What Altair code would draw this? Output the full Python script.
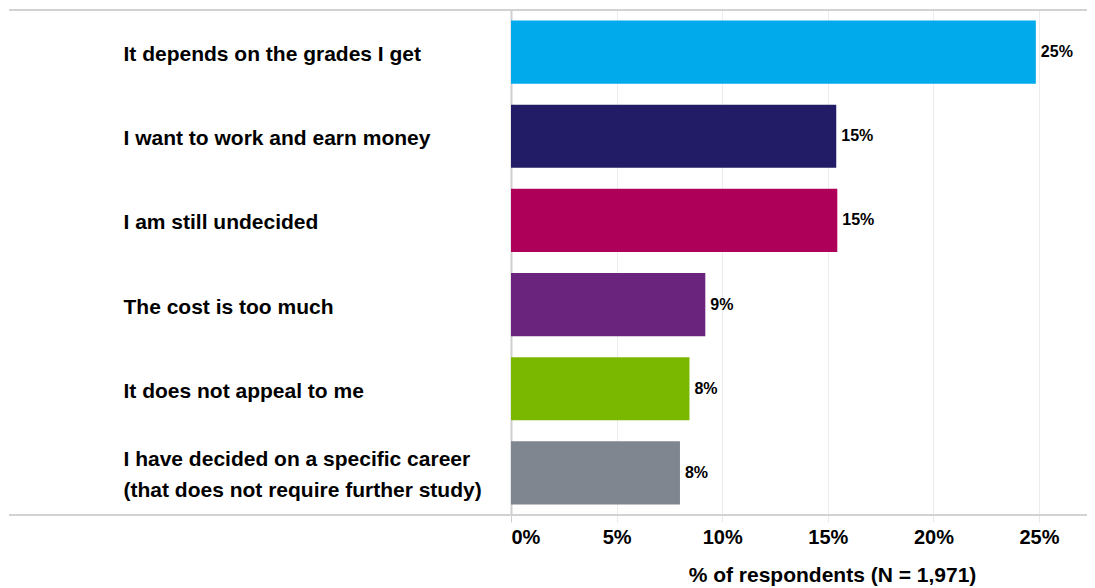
import altair as alt
import pandas as pd

categories = [
    "It depends on the grades I get",
    "I want to work and earn money",
    "I am still undecided",
    "The cost is too much",
    "It does not appeal to me",
    "I have decided on a specific career|(that does not require further study)",
]
values = [24.85, 15.4, 15.45, 9.2, 8.45, 8.0]
colors = ["#00AAEB", "#221C66", "#AE0058", "#6B247D", "#7AB800", "#7F8690"]
tick_values = [0, 5, 10, 15, 20, 25]
x_title = "% of respondents (N = 1,971)"

df = pd.DataFrame({"cat": categories, "val": values})

FONT = "Liberation Sans"

x_enc = alt.X(
    "val:Q",
    scale=alt.Scale(domain=[0, 25], nice=False, zero=True),
    axis=alt.Axis(
        values=tick_values,
        labelExpr="datum.value + '%'",
        title=x_title,
        titleFont=FONT,
        titleFontSize=21,
        titleFontWeight="bold",
        titleColor="black",
        titleX=321,
        titleY=60,
        titleAlign="center",
        titleBaseline="middle",
        labelFont=FONT,
        labelFontSize=20,
        labelFontWeight="bold",
        labelColor="black",
        labelFlush=False,
        labelAlign={"condition": {"test": "datum.value === 0", "value": "left"}, "value": "center"},
        labelPadding=5,
        domain=False,
        ticks=True,
        tickSize=7,
        tickColor={"condition": {"test": "datum.value === 0", "value": "#cfcfcf"}, "value": "#e8e8e8"},
        grid=True,
        gridColor={"condition": {"test": "datum.value === 0", "value": "#cfcfcf"}, "value": "#ececec"},
        gridWidth={"condition": {"test": "datum.value === 0", "value": 2}, "value": 1},
    ),
)

y_enc = alt.Y(
    "cat:N",
    sort=categories,
    scale=alt.Scale(paddingInner=0.25, paddingOuter=0.125),
    axis=alt.Axis(
        title=None,
        domain=False,
        ticks=False,
        tickSize=0,
        grid=False,
        labelAlign="left",
        labelBaseline="middle",
        labelPadding=388,
        labelLimit=420,
        labelFont=FONT,
        labelFontSize=21,
        labelFontWeight="bold",
        labelColor="black",
        labelLineHeight=31,
        labelOffset={"condition": {"test": "indexof(datum.value, '|') >= 0", "value": -13}, "value": 3},
        labelExpr="split(datum.label, '|')",
    ),
)

bars = alt.Chart(df).mark_bar().encode(
    x=x_enc,
    y=y_enc,
    color=alt.Color("cat:N", scale=alt.Scale(domain=categories, range=colors), legend=None),
)

labels = alt.Chart(df).transform_calculate(
    lbl="format(datum.val, '.0f') + '%'"
).mark_text(
    align="left", baseline="middle", dx=5, font=FONT, fontSize=16, fontWeight="bold", color="black"
).encode(
    x="val:Q",
    y=alt.Y("cat:N", sort=categories),
    text="lbl:N",
)

top_rule = alt.Chart(df).mark_rule(color="#d2d2d2", strokeWidth=2).encode(
    x=alt.value(-502), x2=alt.value(584), y=alt.value(0)
)
bottom_rule = alt.Chart(df).mark_rule(color="#d2d2d2", strokeWidth=2).encode(
    x=alt.value(-502), x2=alt.value(584), y=alt.value(505)
)

chart = alt.layer(bars, labels, top_rule, bottom_rule).properties(
    width=528,
    height=505,
    autosize=alt.AutoSizeParams(type="none"),
    padding={"left": 503, "top": 2, "right": 48, "bottom": 73},
).configure_view(stroke=None).configure(background="white")

chart.save("out.html", embed_options={"renderer": "svg", "actions": False})
